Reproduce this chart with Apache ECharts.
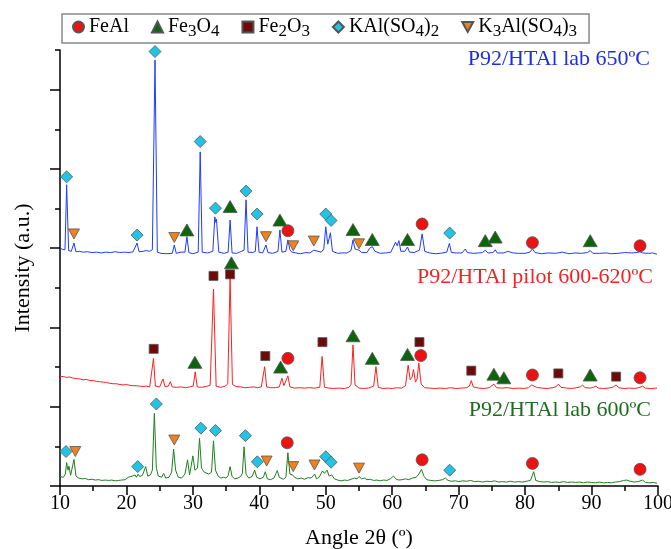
<!DOCTYPE html>
<html>
<head>
<meta charset="utf-8">
<title>XRD P92/HTAl</title>
<script src="https://cdn.jsdelivr.net/npm/echarts@6/dist/echarts.min.js"></script>
<style>
  html, body { margin: 0; padding: 0; background: #fff; }
  #chart { width: 671px; height: 549px; }
</style>
</head>
<body>
<div id="chart"></div>
<script>
// patterns, already stacked (offset) as in the figure: [angle 2theta, intensity a.u.]
var lab650 = [
  [10.0,600],[10.4,597],[10.75,596],[11.0,760],[11.3,594],[11.7,592],[12.1,613],[12.4,591],[12.9,592],[13.5,590],
  [14.1,591],[14.8,589],[15.5,590],[16.2,588],[16.9,590],[17.6,589],[18.3,591],[19.0,589],[19.7,590],[20.4,589],
  [21.0,591],[21.3,591],[21.6,613],[21.9,591],[22.5,592],[23.0,594],[23.5,592],[23.9,596],[24.3,1075],[24.65,590],
  [25.2,587],[26.0,586],[26.9,587],[27.2,608],[27.5,587],[28.2,590],[28.8,590],[29.1,629],[29.4,589],[30.0,586],
  [30.8,590],[31.1,843],[31.4,590],[32.2,588],[33.0,592],[33.3,679],[33.45,665],[33.55,673],[33.9,590],[34.7,587],
  [35.3,590],[35.6,671],[35.9,588],[36.6,587],[37.3,592],[37.7,595],[38.0,722],[38.3,590],[39.0,589],[39.4,592],
  [39.65,654],[39.95,590],[40.5,588],[40.8,592],[41.0,608],[41.3,589],[42.0,587],[42.8,592],[43.1,646],[43.4,590],
  [44.0,592],[44.3,621],[44.6,596],[44.9,590],[45.2,595],[45.5,588],[46.2,586],[47.0,589],[47.6,588],[48.2,595],
  [48.5,590],[49.3,590],[49.7,598],[50.0,654],[50.3,610],[50.7,639],[51.0,592],[51.8,587],[52.5,588],[53.2,588],
  [53.8,594],[54.1,621],[54.4,598],[55.0,595],[55.4,589],[56.2,589],[56.6,600],[57.0,604],[57.4,592],[58.2,587],
  [59.0,588],[59.8,590],[60.5,615],[60.75,606],[61.0,619],[61.3,592],[61.9,592],[62.3,603],[62.6,590],[63.3,589],
  [64.1,595],[64.5,636],[64.9,592],[65.6,588],[66.5,586],[67.3,587],[68.2,590],[68.6,612],[68.9,589],[69.7,588],
  [70.5,588],[71.0,598],[71.3,589],[72.2,587],[73.0,588],[73.6,589],[74.0,595],[74.4,588],[75.2,589],[75.5,596],
  [75.8,588],[76.8,588],[77.4,592],[78.2,588],[79.0,587],[80.0,587],[80.7,590],[81.1,598],[81.5,589],[82.5,586],
  [83.5,588],[84.6,587],[85.6,590],[86.6,586],[87.5,588],[88.5,587],[89.4,589],[89.8,594],[90.2,587],[91.2,587],
  [92.2,588],[93.0,586],[94.0,587],[95.0,589],[96.0,588],[96.8,589],[97.3,591],[97.7,588],[98.6,587],[99.2,588],
  [99.85,585]
];
var pilot600620 = [
  [10.0,277],[10.5,276],[11.0,274],[11.5,275],[12.0,272],[12.5,271],[13.0,270],[13.5,268],[14.0,269],[14.5,266],
  [15.0,266],[15.5,264],[16.0,263],[16.5,262],[17.0,261],[17.5,259],[18.0,258],[18.5,258],[19.0,256],[19.5,255],
  [20.0,256],[20.5,254],[21.0,253],[21.5,253],[22.0,252],[22.5,251],[23.0,252],[23.5,250],[23.8,252],[24.07,322],
  [24.35,252],[25.0,250],[25.5,270],[25.8,251],[26.3,252],[26.6,263],[26.9,250],[27.5,249],[28.2,250],[28.9,248],
  [29.5,250],[30.05,252],[30.35,288],[30.65,250],[31.3,249],[32.0,251],[32.6,254],[33.1,497],[33.5,252],[34.2,249],
  [34.9,252],[35.25,258],[35.6,525],[35.95,256],[36.5,251],[37.2,250],[37.8,248],[38.5,249],[39.2,250],[39.7,248],
  [40.3,250],[40.55,255],[40.8,301],[41.1,250],[41.7,248],[42.4,248],[43.0,250],[43.4,272],[43.7,253],[44.0,254],
  [44.3,278],[44.6,250],[45.3,247],[46.0,248],[46.8,247],[47.6,248],[48.3,247],[49.1,249],[49.45,327],[49.8,249],
  [50.5,247],[51.2,246],[52.0,247],[52.8,246],[53.5,249],[53.8,256],[54.1,356],[54.4,255],[55.0,247],[55.7,246],
  [56.4,247],[57.2,252],[57.55,301],[57.9,249],[58.6,246],[59.3,247],[60.0,246],[60.7,248],[61.4,247],[62.0,253],
  [62.4,305],[62.7,268],[63.0,275],[63.2,294],[63.5,262],[63.75,270],[64.0,310],[64.35,257],[64.9,248],[65.6,247],
  [66.4,246],[67.2,247],[68.0,246],[68.8,248],[69.6,246],[70.4,247],[71.2,248],[71.6,252],[71.9,266],[72.2,250],
  [73.0,247],[73.8,246],[74.6,248],[75.3,257],[75.7,248],[76.5,247],[77.3,248],[78.2,246],[79.0,247],[79.8,246],
  [80.5,248],[81.0,255],[81.3,259],[81.7,249],[82.5,247],[83.3,246],[84.2,248],[84.7,251],[85.0,257],[85.4,249],
  [86.2,247],[87.0,246],[87.8,248],[88.3,250],[88.65,255],[89.0,248],[89.8,247],[90.3,249],[90.66,252],[91.0,247],
  [91.8,246],[92.6,247],[93.3,250],[93.7,255],[94.1,248],[94.9,246],[95.7,247],[96.5,246],[97.3,249],[97.7,252],
  [98.1,247],[98.9,246],[99.85,247]
];
var lab600 = [
  [10.0,24],[10.5,22],[10.8,30],[11.0,59],[11.2,40],[11.35,50],[11.6,27],[11.85,30],[12.1,67],[12.4,25],
  [12.8,20],[13.3,18],[13.8,19],[14.3,16],[14.8,17],[15.3,15],[15.8,16],[16.3,14],[16.8,15],[17.3,14],
  [17.8,15],[18.3,13],[18.8,14],[19.3,15],[19.8,16],[20.3,22],[20.6,20],[20.9,25],[21.1,22],[21.3,28],
  [21.5,22],[21.75,30],[22.0,24],[22.4,27],[22.9,49],[23.2,25],[23.6,28],[23.9,40],[24.2,183],[24.5,45],
  [24.8,25],[25.3,22],[25.6,32],[25.9,20],[26.4,22],[26.8,35],[27.1,93],[27.4,40],[27.8,22],[28.3,20],
  [28.8,30],[29.2,66],[29.5,28],[30.0,76],[30.3,40],[30.7,45],[31.0,120],[31.3,45],[31.7,35],[32.0,38],
  [32.4,30],[32.8,35],[33.1,114],[33.4,40],[33.8,25],[34.2,20],[34.6,22],[35.0,20],[35.3,26],[35.6,49],
  [35.9,24],[36.3,18],[36.8,20],[37.2,24],[37.45,32],[37.7,99],[38.0,30],[38.4,20],[38.9,24],[39.3,40],
  [39.6,22],[40.1,18],[40.6,22],[40.9,36],[41.2,18],[41.7,16],[42.2,20],[42.7,39],[43.0,22],[43.6,17],
  [44.0,22],[44.3,84],[44.6,30],[45.0,28],[45.3,22],[45.8,18],[46.3,20],[46.8,17],[47.3,21],[47.8,20],
  [48.1,25],[48.34,30],[48.6,18],[49.0,22],[49.5,38],[49.8,32],[50.2,40],[50.5,25],[50.9,28],[51.3,18],
  [51.8,15],[52.3,13],[52.8,15],[53.3,14],[53.8,17],[54.3,20],[54.7,18],[55.0,24],[55.4,18],[55.8,20],
  [56.2,16],[56.7,17],[57.2,14],[57.7,15],[58.2,13],[58.7,15],[59.2,14],[59.7,18],[60.2,25],[60.6,17],
  [61.0,15],[61.5,16],[62.0,18],[62.5,16],[63.0,20],[63.6,22],[64.0,30],[64.4,42],[64.8,24],[65.2,16],
  [65.8,14],[66.4,13],[67.0,14],[67.6,16],[68.0,20],[68.4,14],[68.9,12],[69.5,13],[70.0,11],[70.6,13],
  [71.2,12],[71.8,14],[72.4,11],[73.0,12],[73.6,10],[74.2,12],[74.8,11],[75.4,13],[76.0,10],[76.6,11],
  [77.2,10],[77.8,12],[78.4,10],[79.0,11],[79.6,10],[80.2,12],[80.8,14],[81.3,36],[81.6,14],[82.2,11],
  [82.8,10],[83.4,11],[84.0,9],[84.6,10],[85.2,9],[85.8,11],[86.4,9],[87.0,10],[87.6,9],[88.2,10],
  [88.8,8],[89.4,10],[90.0,9],[90.6,8],[91.2,10],[91.8,8],[92.4,9],[93.0,8],[93.6,10],[94.2,11],
  [94.8,14],[95.3,15],[95.8,12],[96.4,10],[97.0,11],[97.7,15],[98.1,9],[98.7,8],[99.3,9],[99.85,7]
];

// phase markers
var feAl = [
  [44.3,644],[64.5,661],[81.1,614],[97.3,606],
  [44.3,322],[64.3,329],[81.1,280],[97.3,273],
  [44.2,109],[64.5,66],[81.1,57],[97.3,42]
];
var fe3o4 = [
  [29.1,646],[35.6,705],[43.1,671],[54.1,647],[57.0,622],[62.3,622],[74.0,619],[75.5,628],[89.8,619],
  [30.3,312],[35.8,563],[43.2,300],[54.1,379],[57.0,322],[62.3,332],[75.3,282],[76.8,273],[89.8,280]
];
var fe2o3 = [
  [24.1,346],[33.1,530],[35.6,534],[40.9,328],[49.5,363],[64.1,363],[71.9,291],[85.0,284],[93.7,276]
];
var kalso4 = [
  [11.0,780],[21.6,633],[24.3,1096],[31.1,869],[33.4,701],[38.0,744],[39.65,686],[50.0,686],[50.8,670],[68.65,638],
  [10.9,87],[21.7,49],[24.5,207],[31.2,146],[33.4,140],[37.9,127],[39.7,61],[50.0,74],[50.8,60],[68.65,40]
];
var k3also4 = [
  [12.1,636],[27.2,627],[41.0,629],[45.1,606],[48.2,618],[55.0,611],
  [12.3,87],[27.2,116],[41.1,63],[45.1,49],[48.3,53],[55.0,45]
];

var xTicks = [10, 20, 30, 40, 50, 60, 70, 80, 90, 100];
var yMajor = [0, 200, 400, 600, 800, 1000];
var yMinor = [100, 300, 500, 700, 900, 1100];

var serif = "'Liberation Serif', 'DejaVu Serif', serif";

// legend names with subscripts
var legendRich = {
  FeAl: "{t|FeAl}",
  Fe3O4: "{t|Fe}{s|3}{t|O}{s|4}",
  Fe2O3: "{t|Fe}{s|2}{t|O}{s|3}",
  KAlSO4: "{t|KAl(SO}{s|4}{t|)}{s|2}",
  K3AlSO4: "{t|K}{s|3}{t|Al(SO}{s|4}{t|)}{s|3}"
};

var chart = echarts.init(document.getElementById("chart"));

function phase(name, data, symbol, size, color) {
  return {
    name: name,
    type: "scatter",
    data: data,
    symbol: symbol,
    symbolSize: size,
    z: 5,
    itemStyle: { color: color, borderColor: "#555", borderWidth: 0.8, opacity: 1 }
  };
}

function pattern(name, data, color) {
  return {
    name: name,
    type: "line",
    data: data,
    showSymbol: false,
    symbol: "none",
    z: 2,
    lineStyle: { color: color, width: 1 }
  };
}

chart.setOption({
  animation: false,
  backgroundColor: "#fff",
  grid: { left: 60, right: 13, top: 50, bottom: 63, containLabel: false, outerBoundsMode: "none" },
  legend: {
    data: ["FeAl", "Fe3O4", "Fe2O3", "KAlSO4", "K3AlSO4"],
    left: 62,
    top: 14,
    itemWidth: 11,
    itemHeight: 11,
    itemGap: 22,
    padding: [3, 12, 3, 10],
    borderColor: "#888",
    borderWidth: 1.5,
    formatter: function (name) {
      return legendRich[name];
    },
    textStyle: {
      color: "#000",
      rich: {
        t: { fontFamily: serif, fontSize: 20, color: "#000" },
        s: { fontFamily: serif, fontSize: 17, color: "#000", padding: [9, 0, 0, 0] }
      }
    }
  },
  xAxis: {
    type: "value",
    min: 10,
    max: 100,
    interval: 10,
    name: "Angle 2θ (º)",
    nameLocation: "middle",
    nameGap: 41,
    nameTextStyle: { fontFamily: serif, fontSize: 22, color: "#000" },
    axisLine: { onZero: false, lineStyle: { color: "#000", width: 1.5 } },
    axisTick: { length: 9, lineStyle: { color: "#000", width: 1.5 } },
    minorTick: { show: true, splitNumber: 2, length: 5, lineStyle: { color: "#000", width: 1.5 } },
    axisLabel: {
      margin: 8,
      fontFamily: serif,
      fontSize: 20,
      color: "#000",
      customValues: xTicks
    },
    splitLine: { show: false }
  },
  yAxis: [
    {
      type: "value",
      min: 0,
      max: 1100,
      name: "Intensity (a.u.)",
      nameLocation: "middle",
      nameGap: 26,
      nameTextStyle: { fontFamily: serif, fontSize: 22, color: "#000" },
      axisLine: { show: true, lineStyle: { color: "#000", width: 1.5 } },
      axisTick: { show: true, length: 10, customValues: yMajor, lineStyle: { color: "#000", width: 1.5 } },
      axisLabel: { show: false, customValues: yMajor },
      splitLine: { show: false }
    },
    {
      type: "value",
      min: 0,
      max: 1100,
      position: "left",
      axisLine: { show: false },
      axisTick: { show: true, length: 5, customValues: yMinor, lineStyle: { color: "#000", width: 1.5 } },
      axisLabel: { show: false, customValues: yMinor },
      splitLine: { show: false }
    }
  ],
  graphic: [
    {
      type: "text", x: 650, y: 59,
      style: { text: "P92/HTAl lab 650ºC", fill: "#1f2ee0", font: "22px " + serif, align: "right", verticalAlign: "middle" }
    },
    {
      type: "text", x: 653, y: 277,
      style: { text: "P92/HTAl pilot 600-620ºC", fill: "#f02424", font: "22px " + serif, align: "right", verticalAlign: "middle" }
    },
    {
      type: "text", x: 651, y: 410,
      style: { text: "P92/HTAl lab 600ºC", fill: "#1c6e1c", font: "22px " + serif, align: "right", verticalAlign: "middle" }
    }
  ],
  series: [
    pattern("lab 650", lab650, "#1f3cff"),
    pattern("pilot 600-620", pilot600620, "#ff2020"),
    pattern("lab 600", lab600, "#1e801e"),
    phase("FeAl", feAl, "circle", 12, "#ee1111"),
    phase("Fe3O4", fe3o4, "triangle", [14, 12], "#0b660b"),
    phase("Fe2O3", fe2o3, "rect", 9, "#6e0a0a"),
    phase("KAlSO4", kalso4, "diamond", [12, 12], "#22c4e6"),
    phase("K3AlSO4", k3also4, "path://M0,0L10,0L5,9Z", [11, 10], "#f0821e")
  ]
});
</script>
</body>
</html>
